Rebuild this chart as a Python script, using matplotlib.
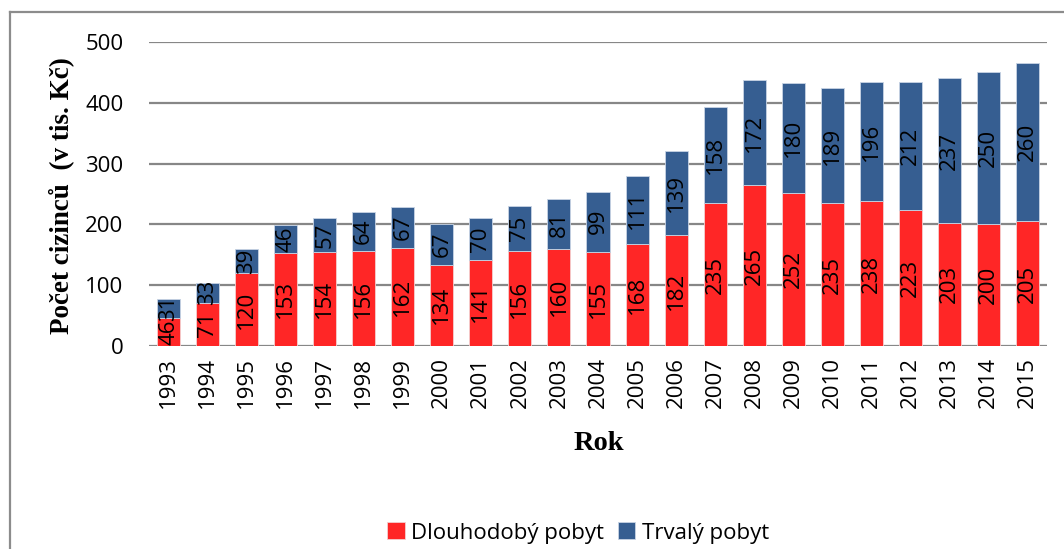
import matplotlib
matplotlib.use("Agg")
import matplotlib.pyplot as plt
from matplotlib.lines import Line2D
import numpy as np

years = [str(y) for y in range(1993, 2016)]
dlouhodoby = [46, 71, 120, 153, 154, 156, 162, 134, 141, 156, 160, 155, 168,
              182, 235, 265, 252, 235, 238, 223, 203, 200, 205]
trvaly = [31, 33, 39, 46, 57, 64, 67, 67, 70, 75, 81, 99, 111,
          139, 158, 172, 180, 189, 196, 212, 237, 250, 260]
yticks = [0, 100, 200, 300, 400, 500]

RED = "#FF2626"
BLUE = "#365E91"
GRID = "#878787"
SANS = ["Open Sans", "DejaVu Sans"]
SERIF = ["Liberation Serif", "DejaVu Serif"]
FS = 16

W, H = 1064, 549
fig = plt.figure(figsize=(W / 100, H / 100), dpi=100)
ax = fig.add_axes([149 / W, 1 - 346 / H, (1047 - 149) / W, (346 - 42) / H])

x = np.arange(len(years))
b1 = ax.bar(x, dlouhodoby, width=0.59, color=RED, edgecolor="#f4d0d0", linewidth=0.6,
            label="Dlouhodobý pobyt", zorder=3)
b2 = ax.bar(x, trvaly, width=0.59, bottom=dlouhodoby, color=BLUE, edgecolor="#c8d4e4",
            linewidth=0.6, label="Trvalý pobyt", zorder=3)
for cont in (b1, b2):
    ax.bar_label(cont, label_type="center", rotation=90, fontsize=FS,
                 family=SANS, color="black", zorder=4)

ax.set_xlim(-0.5, len(years) - 0.5)
ax.set_ylim(0, 500)
ax.set_yticks(yticks)
ax.set_yticklabels([str(v) for v in yticks], family=SANS, fontsize=FS)
ax.set_xticks(x)
ax.set_xticklabels(years, rotation=90, family=SANS, fontsize=FS)
ax.tick_params(axis="y", length=0, pad=18.5)
ax.tick_params(axis="x", length=0, pad=8)
ax.yaxis.grid(True, color=GRID, linewidth=1.6, zorder=0)
for s in ax.spines.values():
    s.set_visible(False)
ax.set_axisbelow(True)

fig.text(61 / W, 1 - 196 / H, "Počet cizinců  (v tis. Kč)", rotation=90,
         ha="center", va="center", family=SERIF, fontweight="bold", fontsize=19.5)
fig.text(599 / W, 1 - 443 / H, "Rok", ha="center", va="center",
         family=SERIF, fontweight="bold", fontsize=20.5)

fig.legend(handles=[b1, b2], labels=["Dlouhodobý pobyt", "Trvalý pobyt"],
           loc="center", bbox_to_anchor=(578 / W, 1 - 533 / H), ncol=2,
           frameon=False, prop={"family": SANS, "size": FS},
           handlelength=0.78, handleheight=0.78, handletextpad=0.3,
           columnspacing=0.6, borderpad=0, borderaxespad=0)

# outer chart border (left and top edges visible)
fig.add_artist(Line2D([10 / W, 10 / W], [0, 1 - 12 / H], color="#8c8c8c",
                      linewidth=1.6, transform=fig.transFigure))
fig.add_artist(Line2D([10 / W, 1], [1 - 12 / H, 1 - 12 / H], color="#8c8c8c",
                      linewidth=1.6, transform=fig.transFigure))

fig.savefig("out.png", dpi=100)
